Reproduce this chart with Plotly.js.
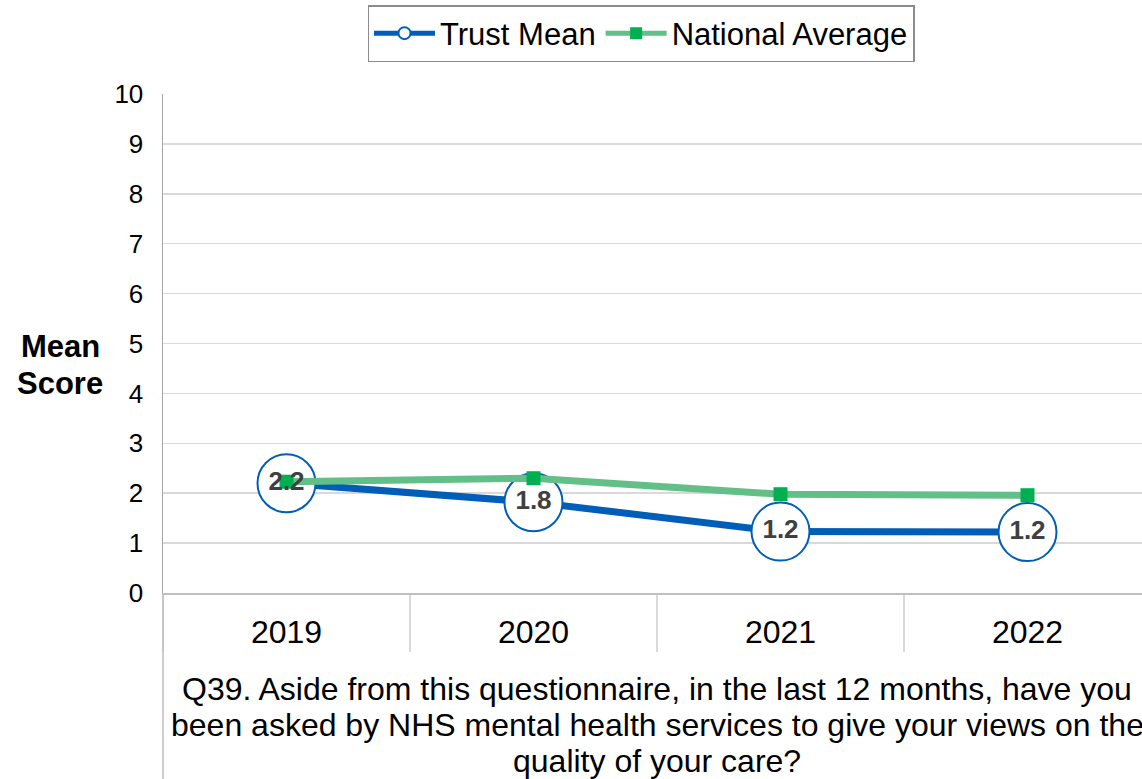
<!DOCTYPE html>
<html>
<head>
<meta charset="utf-8">
<script src="https://cdn.plot.ly/plotly-3.0.1.min.js"></script>
<style>
  html, body { margin: 0; padding: 0; overflow: hidden; background: #fff; }
  #chart { width: 1160px; height: 779px; }
</style>
</head>
<body>
<div id="chart"></div>
<script>
// ---- Data ----
const years = ['2019', '2020', '2021', '2022'];
const trustMean = [2.2, 1.82, 1.23, 1.22];
const trustLabels = ['2.2', '1.8', '1.2', '1.2'];
const nationalAvg = [2.23, 2.3, 1.98, 1.96];
const yTicks = [0, 1, 2, 3, 4, 5, 6, 7, 8, 9, 10];
const questionLines = [
  'Q39. Aside from this questionnaire, in the last 12 months, have you',
  'been asked by NHS mental health services to give your views on the',
  'quality of your care?'
];
const yTitleLines = ['Mean', 'Score'];

const FONT = '"Liberation Sans", Arial, sans-serif';
const BLUE = '#005EB8';
const GREEN_LINE = '#62BF87';
const GREEN_MARK = '#00B050';

// plot area geometry (px) used to place text lines
const W = 1160, H = 779;
const PLOT_TOP = 94, PLOT_H = 499, PLOT_L = 163, PLOT_W = 988;
const pyToPaper = (py) => (PLOT_TOP + PLOT_H - py) / PLOT_H;
const pxToPaper = (px) => (px - PLOT_L) / PLOT_W;

const traces = [
  {
    name: 'Trust Mean',
    x: years, y: trustMean,
    type: 'scatter', mode: 'lines+markers',
    line: { color: BLUE, width: 7 },
    marker: { symbol: 'circle', size: 58, color: '#FFFFFF', line: { color: BLUE, width: 2 } },
    hoverinfo: 'skip'
  },
  {
    name: 'National Average',
    x: years, y: nationalAvg,
    type: 'scatter', mode: 'lines+markers',
    line: { color: GREEN_LINE, width: 7 },
    marker: { symbol: 'square', size: 14, color: GREEN_MARK },
    hoverinfo: 'skip'
  },
  {
    x: years, y: trustMean,
    type: 'scatter', mode: 'text',
    text: trustLabels,
    textposition: 'middle center',
    textfont: { family: FONT, size: 26, color: '#404040', weight: 'bold' },
    showlegend: false,
    hoverinfo: 'skip'
  }
];

const annotations = [];
yTitleLines.forEach((t, i) => {
  annotations.push({
    text: '<b>' + t + '</b>', xref: 'paper', yref: 'paper',
    x: pxToPaper(60), y: pyToPaper(346 + i * 37),
    xanchor: 'center', yanchor: 'middle', showarrow: false,
    font: { family: FONT, size: 31, color: '#000000' }
  });
});
questionLines.forEach((t, i) => {
  annotations.push({
    text: t, xref: 'paper', yref: 'paper',
    x: 0.5, y: pyToPaper(689 + i * 36),
    xanchor: 'center', yanchor: 'middle', showarrow: false,
    font: { family: FONT, size: 32, color: '#000000' }
  });
});

const layout = {
  width: W, height: H,
  margin: { l: PLOT_L, r: W - PLOT_L - PLOT_W, t: PLOT_TOP, b: H - PLOT_TOP - PLOT_H, autoexpand: false },
  paper_bgcolor: '#FFFFFF',
  plot_bgcolor: '#FFFFFF',
  font: { family: FONT, size: 32, color: '#000000' },
  showlegend: true,
  legend: {
    orientation: 'h',
    xref: 'container', yref: 'container',
    x: 641 / W, xanchor: 'center',
    y: 1 - 5 / H, yanchor: 'top',
    bgcolor: '#FFFFFF',
    bordercolor: '#8C8C8C', borderwidth: 1.5,
    font: { family: FONT, size: 31, color: '#000000' },
    itemsizing: 'constant',
    traceorder: 'normal',
    itemwidth: 61
  },
  xaxis: {
    type: 'category',
    categoryorder: 'array', categoryarray: years,
    range: [-0.5, 3.5],
    showgrid: false,
    showline: true, linecolor: '#BFBFBF', linewidth: 1.5,
    ticks: 'outside', ticklen: 57, tickwidth: 1.5, tickcolor: '#D9D9D9',
    tickson: 'boundaries',
    ticklabelstandoff: 10,
    tickfont: { family: FONT, size: 32, color: '#000000' },
    zeroline: false,
    fixedrange: true
  },
  yaxis: {
    range: [0, 10],
    tickvals: yTicks,
    ticktext: yTicks.map(String),
    showgrid: true, gridcolor: '#D9D9D9', gridwidth: 1.5,
    showline: true, linecolor: '#A6A6A6', linewidth: 1.5,
    ticks: '',
    ticklabelstandoff: 13,
    tickfont: { family: FONT, size: 26, color: '#000000' },
    zeroline: false,
    fixedrange: true
  },
  shapes: [
    { type: 'line', xref: 'paper', yref: 'paper', x0: 0, x1: 0, y0: 0, y1: -0.38,
      line: { color: '#BFBFBF', width: 1.5 } }
  ],
  annotations: annotations
};

Plotly.newPlot('chart', traces, layout, { displayModeBar: false, staticPlot: true });
</script>
</body>
</html>
